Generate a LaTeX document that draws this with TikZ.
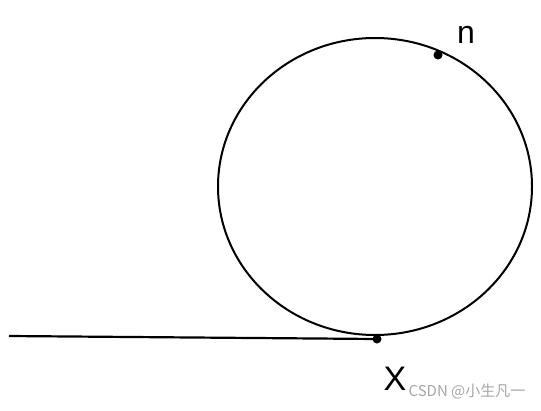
\documentclass[tikz,border=0pt]{standalone}
\usepackage{fontspec}
\setmainfont{Liberation Sans}
\newfontfamily\cjk{Noto Sans CJK SC}

\begin{document}
\begin{tikzpicture}[x=1pt,y=1pt,yscale=-1,xscale=1,
    dot/.style={circle,fill,inner sep=0pt,minimum size=9pt}]
      \useasboundingbox (0,0) rectangle (541,410);
      \draw [line width=2]   (375,186.5) ellipse (157 and 148.5) ;
      \coordinate (start) at (9,336) ;
      \node [dot] (x) at (377,339) {};
      \node [dot] (n) at (438,55) {};
      \draw [line width=2.2]   (start) -- (x.center) ;
      \draw (466,35) node [font=\fontsize{32}{32}\selectfont] (nlabel)  {n};
      \draw (395,379) node [font=\fontsize{34}{34}\selectfont] (xlabel)  {X};
      \draw (467,391) node [font=\fontsize{15}{15}\selectfont,text=black!35] (mark)  {\cjk CSDN @小生凡一};
  \end{tikzpicture}
\end{document}
